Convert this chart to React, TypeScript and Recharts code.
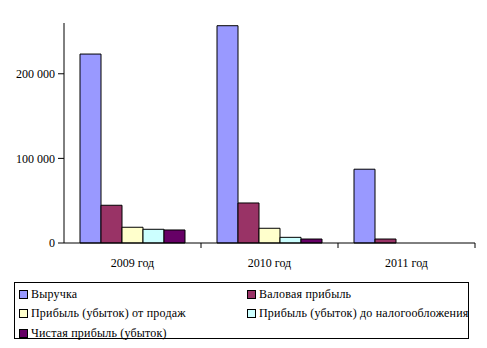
import React from 'react';
import { BarChart, Bar, XAxis, YAxis } from 'recharts';

const years = ['2009 год', '2010 год', '2011 год'];
const revenue = [223300, 256800, 87200];
const grossProfit = [44600, 47300, 4700];
const salesProfit = [18600, 17400, 0];
const preTaxProfit = [16200, 6700, 0];
const netProfit = [15400, 4700, 0];
const yTicks = [0, 100000, 200000];

const series = [
  { key: 'revenue', name: 'Выручка', color: '#9999FF', values: revenue },
  { key: 'gross', name: 'Валовая прибыль', color: '#993366', values: grossProfit },
  { key: 'sales', name: 'Прибыль (убыток) от продаж', color: '#FFFFCC', values: salesProfit },
  { key: 'pretax', name: 'Прибыль (убыток) до налогообложения', color: '#CCFFFF', values: preTaxProfit },
  { key: 'net', name: 'Чистая прибыль (убыток)', color: '#660066', values: netProfit },
];

const data = years.map((year, i) => {
  const row: { [key: string]: string | number } = { year };
  series.forEach(s => { row[s.key] = s.values[i]; });
  return row;
});

const W = 487;
const CHART_H = 275;
const margin = { top: 23, right: 12, left: 0, bottom: 2 };
const Y_AXIS_W = 64;
const bandHalf = (W - margin.left - margin.right - Y_AXIS_W) / years.length / 2;
const font = 'Liberation Serif, DejaVu Serif';

const fmt = (v: number) => String(v).replace(/\B(?=(\d{3})+(?!\d))/g, ' ');

const XTick = (props: any) => {
  const { x, y, payload } = props;
  return (
    <g>
      <line x1={x + bandHalf} y1={y} x2={x + bandHalf} y2={y + 5} stroke="#000" />
      <text x={x} y={y + 24} textAnchor="middle" fontSize={12} style={{ fontFamily: font }} fill="#000">
        {payload.value}
      </text>
    </g>
  );
};

export default function App() {
  return (
    <div style={{ position: 'relative', width: W, height: 348, background: '#fff', fontFamily: font }}>
      <style>{'body{margin:0}'}</style>
      <BarChart width={W} height={CHART_H} data={data} margin={margin} barCategoryGap={16} barGap={0} style={{ fontFamily: font }}>
        <XAxis
          dataKey="year"
          stroke="#000"
          tickLine={false}
          tickSize={0}
          tickMargin={0}
          height={30}
          tick={<XTick />}
          interval={0}
        />
        <YAxis
          width={Y_AXIS_W}
          domain={[0, 260000]}
          ticks={yTicks}
          stroke="#000"
          tickSize={6}
          tickMargin={3}
          tickFormatter={fmt}
          tick={{ fill: '#000', fontSize: 12, style: { fontFamily: font } }}
          interval={0}
        />
        {series.map(s => (
          <Bar key={s.key} dataKey={s.key} name={s.name} fill={s.color} stroke="#000" strokeWidth={1} isAnimationActive={false} />
        ))}
      </BarChart>
      <div
        style={{
          position: 'absolute', left: 14, top: 282, width: 455, height: 57,
          border: '1px solid #000', boxSizing: 'border-box', fontSize: 12, color: '#000', letterSpacing: 0.2,
        }}
      >
        {series.map((s, i) => (
          <div
            key={s.key}
            style={{
              position: 'absolute',
              left: i % 2 === 0 ? 4 : 232,
              top: 3 + Math.floor(i / 2) * 19.5,
              display: 'flex', alignItems: 'center', whiteSpace: 'nowrap', height: 16,
            }}
          >
            <span style={{ display: 'inline-block', width: 7, height: 7, background: s.color, border: '1px solid #000', marginRight: 3 }} />
            <span>{s.name}</span>
          </div>
        ))}
      </div>
    </div>
  );
}
